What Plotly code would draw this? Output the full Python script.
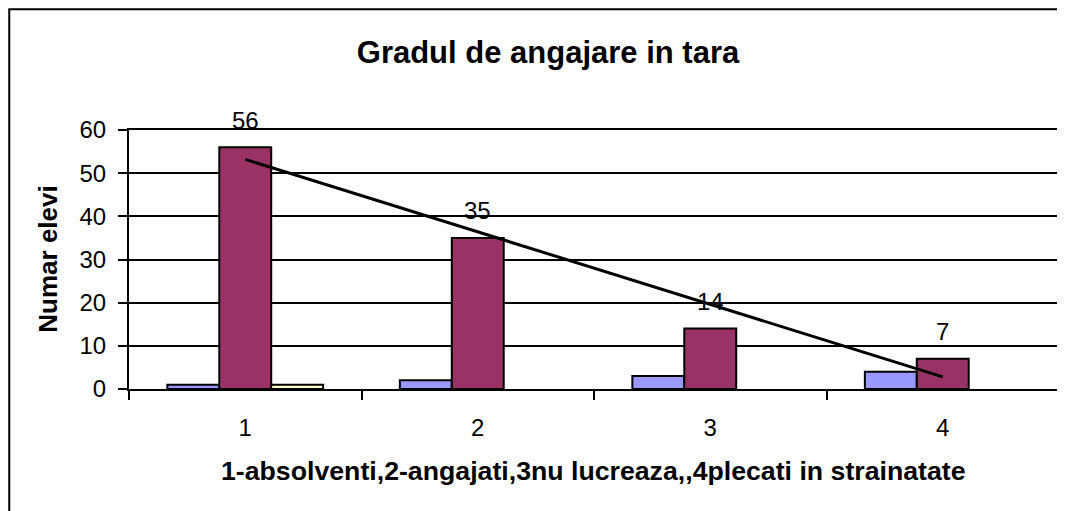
import numpy as np
import plotly.graph_objects as go

categories = ["1", "2", "3", "4"]
series_blue = [1, 2, 3, 4]
series_maroon = [56, 35, 14, 7]
series_yellow = [1, None, None, None]
y_ticks = [0, 10, 20, 30, 40, 50, 60]

title_text = "Gradul de angajare in tara"
x_title = "1-absolventi,2-angajati,3nu lucreaza,,4plecati in strainatate"
y_title = "Numar elevi"

FONT = "Arial, Liberation Sans, sans-serif"

# linear trend line of the maroon series (as Excel's linear trendline)
xs = np.arange(1, len(series_maroon) + 1)
slope, intercept = np.polyfit(xs, series_maroon, 1)
trend = slope * xs + intercept

fig = go.Figure()
for vals, col in [(series_blue, "#9999FF"), (series_maroon, "#993366"), (series_yellow, "#FFFFCC")]:
    fig.add_trace(go.Bar(x=categories, y=vals, marker=dict(color=col, line=dict(color="black", width=2)),
                         showlegend=False, hoverinfo="skip"))

fig.add_trace(go.Scatter(x=categories, y=trend, mode="lines", line=dict(color="black", width=3),
                         showlegend=False, hoverinfo="skip"))

for i, v in enumerate(series_maroon):
    fig.add_annotation(x=i, y=v, text=str(v), showarrow=False, yanchor="middle", yshift=27,
                       font=dict(family=FONT, size=24, color="black"))

OFF = 8  # page body margin
W, H = 1065 - OFF, 511 - OFF
L, R = 129 - OFF, 4
T = 130 - OFF
B = H - (389.5 - OFF)
pw = W - L - R
ph = H - T - B

def px_x(px):
    return (px - OFF - L) / pw

def px_y(py):
    return ((H - B) - (py - OFF)) / ph

fig.add_annotation(xref="paper", yref="paper", x=px_x(47), y=0.5, text="<b>" + y_title + "</b>",
                   textangle=-90, showarrow=False, xanchor="center", yanchor="middle",
                   font=dict(family=FONT, size=26, color="black"))
fig.add_annotation(xref="paper", yref="paper", x=px_x(594), y=px_y(472),
                   text="<b>" + x_title + "</b>", showarrow=False, xanchor="center", yanchor="middle",
                   font=dict(family=FONT, size=26.7, color="black"))

# outer chart-area border
fig.add_shape(type="rect", xref="paper", yref="paper",
              x0=px_x(9), x1=1.2, y0=-1.0, y1=px_y(9),
              line=dict(color="black", width=2), fillcolor="rgba(0,0,0,0)", layer="below")

fig.update_layout(
    width=W, height=H,
    margin=dict(l=L, r=R, t=T, b=B, pad=0),
    paper_bgcolor="white", plot_bgcolor="white",
    barmode="group", bargap=0.33, bargroupgap=0,
    title=dict(text="<b>" + title_text + "</b>", x=(548 - OFF) / W, xref="container", xanchor="center",
               y=1 - (52 - OFF) / H, yref="container", yanchor="middle",
               font=dict(family=FONT, size=31, color="black")),
    font=dict(family=FONT, color="black"),
    xaxis=dict(type="category", tickson="boundaries", ticks="outside", ticklen=9, tickwidth=2,
               tickcolor="black", showline=True, linecolor="black", linewidth=2, mirror=True,
               showgrid=False, tickfont=dict(size=24, family=FONT, color="black"), ticklabelstandoff=16),
    yaxis=dict(range=[0, 60], tickvals=y_ticks, ticks="outside", ticklen=9, tickwidth=2, tickcolor="black",
               showline=True, linecolor="black", linewidth=2, mirror=True,
               showgrid=True, gridcolor="black", gridwidth=2, zeroline=False,
               tickfont=dict(size=24, family=FONT, color="black"), ticklabelstandoff=7),
)

fig.write_html("out.html")
